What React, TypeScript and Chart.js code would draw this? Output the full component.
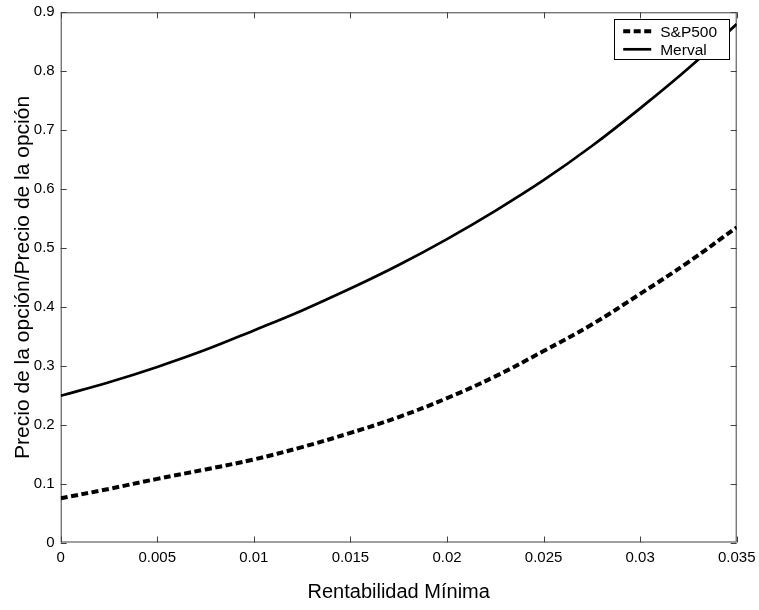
import React, { useEffect, useRef } from "react";
import { Chart, registerables } from "chart.js";

Chart.register(...registerables);

const rentabilidad = [0, 0.0025, 0.005, 0.0075, 0.01, 0.0125, 0.015, 0.0175, 0.02, 0.0225, 0.025, 0.0275, 0.03, 0.0325, 0.035];
const sp500 = [0.075, 0.091, 0.108, 0.124, 0.141, 0.162, 0.186, 0.213, 0.245, 0.282, 0.325, 0.37, 0.422, 0.476, 0.535];
const merval = [0.249, 0.272, 0.298, 0.327, 0.36, 0.394, 0.431, 0.471, 0.515, 0.563, 0.615, 0.673, 0.737, 0.805, 0.88];
const xTickLabels = ["0", "0.005", "0.01", "0.015", "0.02", "0.025", "0.03", "0.035"];
const yTickLabels = ["0", "0.1", "0.2", "0.3", "0.4", "0.5", "0.6", "0.7", "0.8", "0.9"];
const seriesLabels = ["S&P500", "Merval"];

const FONT = "'Liberation Sans', Arial, Helvetica, sans-serif";
const AXIS = "#404040";

const framePlugin = {
  id: "matlabFrame",
  beforeDatasetsDraw(chart: any) {
    const { ctx, chartArea: a, scales } = chart;
    ctx.save();
    ctx.strokeStyle = AXIS;
    ctx.lineWidth = 1;
    ctx.strokeRect(a.left + 0.5, a.top + 0.5, a.right - a.left - 1, a.bottom - a.top - 1);
    const tl = 6;
    ctx.beginPath();
    scales.x.ticks.forEach((t: any) => {
      const px = Math.round(scales.x.getPixelForValue(t.value)) + 0.5;
      ctx.moveTo(px, a.bottom);
      ctx.lineTo(px, a.bottom - tl);
      ctx.moveTo(px, a.top);
      ctx.lineTo(px, a.top + tl);
    });
    scales.y.ticks.forEach((t: any) => {
      const py = Math.round(scales.y.getPixelForValue(t.value)) + 0.5;
      ctx.moveTo(a.left, py);
      ctx.lineTo(a.left + tl, py);
      ctx.moveTo(a.right, py);
      ctx.lineTo(a.right - tl, py);
    });
    ctx.stroke();
    ctx.restore();
  },
  afterDatasetsDraw(chart: any) {
    const { ctx, chartArea: a } = chart;
    const w = 115;
    const h = 40;
    const x0 = a.right - 7.5 - w;
    const y0 = a.top + 7;
    ctx.save();
    ctx.fillStyle = "#ffffff";
    ctx.fillRect(x0, y0, w, h);
    ctx.strokeStyle = "#000000";
    ctx.lineWidth = 1;
    ctx.strokeRect(Math.round(x0) + 0.5, Math.round(y0) + 0.5, w, h);
    chart.data.datasets.forEach((ds: any, i: number) => {
      const cy = y0 + 12 + i * 18;
      ctx.beginPath();
      ctx.setLineDash(ds.borderDash || []);
      ctx.lineWidth = ds.borderWidth;
      ctx.strokeStyle = ds.borderColor;
      ctx.moveTo(x0 + 9, cy);
      ctx.lineTo(x0 + 37, cy);
      ctx.stroke();
      ctx.setLineDash([]);
      ctx.fillStyle = "#000000";
      ctx.font = `15.5px ${FONT}`;
      ctx.textBaseline = "middle";
      ctx.textAlign = "left";
      ctx.fillText(ds.label, x0 + 46, cy + 1);
    });
    ctx.restore();
  },
};

export default function App() {
  const ref = useRef<HTMLCanvasElement>(null);
  useEffect(() => {
    document.body.style.margin = "0";
    const canvas = ref.current!;
    const chart = new Chart(canvas, {
      type: "line",
      data: {
        datasets: [
          {
            label: seriesLabels[0],
            data: rentabilidad.map((x, i) => ({ x, y: sp500[i] })),
            borderColor: "#000000",
            borderWidth: 4,
            borderDash: [7, 3.5],
            pointRadius: 0,
            tension: 0.4,
            fill: false,
          },
          {
            label: seriesLabels[1],
            data: rentabilidad.map((x, i) => ({ x, y: merval[i] })),
            borderColor: "#000000",
            borderWidth: 2.7,
            pointRadius: 0,
            tension: 0.4,
            fill: false,
          },
        ],
      },
      options: {
        responsive: false,
        animation: false,
        layout: { padding: { top: 12.3, right: 22.3, left: 0, bottom: 0 } },
        plugins: { legend: { display: false }, tooltip: { enabled: false } },
        scales: {
          x: {
            type: "linear",
            min: 0,
            max: 0.035,
            afterBuildTicks: (s: any) => {
              s.ticks = xTickLabels.map((l) => ({ value: parseFloat(l) }));
            },
            afterFit: (s: any) => {
              s.height = 67.5;
              s.paddingRight = 0;
              s.paddingLeft = 0;
            },
            ticks: {
              autoSkip: false,
              maxRotation: 0,
              padding: 6,
              color: "#000000",
              font: { family: FONT, size: 15 },
              callback: (_v: any, i: number) => xTickLabels[i],
            },
            grid: { display: false, drawTicks: false },
            border: { display: false },
            title: {
              display: true,
              text: "Rentabilidad Mínima",
              color: "#000000",
              font: { family: FONT, size: 20 },
              padding: { top: 0, bottom: 6 },
            },
          },
          y: {
            type: "linear",
            min: 0,
            max: 0.9,
            afterBuildTicks: (s: any) => {
              s.ticks = yTickLabels.map((l) => ({ value: parseFloat(l) }));
            },
            afterFit: (s: any) => {
              s.width = 60.7;
              s.paddingTop = 0;
              s.paddingBottom = 0;
            },
            ticks: {
              autoSkip: false,
              padding: 6,
              color: "#000000",
              font: { family: FONT, size: 15 },
              callback: (_v: any, i: number) => yTickLabels[i],
            },
            grid: { display: false, drawTicks: false },
            border: { display: false },
            title: {
              display: true,
              text: "Precio de la opción/Precio de la opción",
              color: "#000000",
              font: { family: FONT, size: 21 },
              padding: { top: 11, bottom: 0 },
            },
          },
        },
      },
      plugins: [framePlugin],
    });
    return () => chart.destroy();
  }, []);
  return <canvas ref={ref} width={759} height={610} style={{ display: "block" }} />;
}
